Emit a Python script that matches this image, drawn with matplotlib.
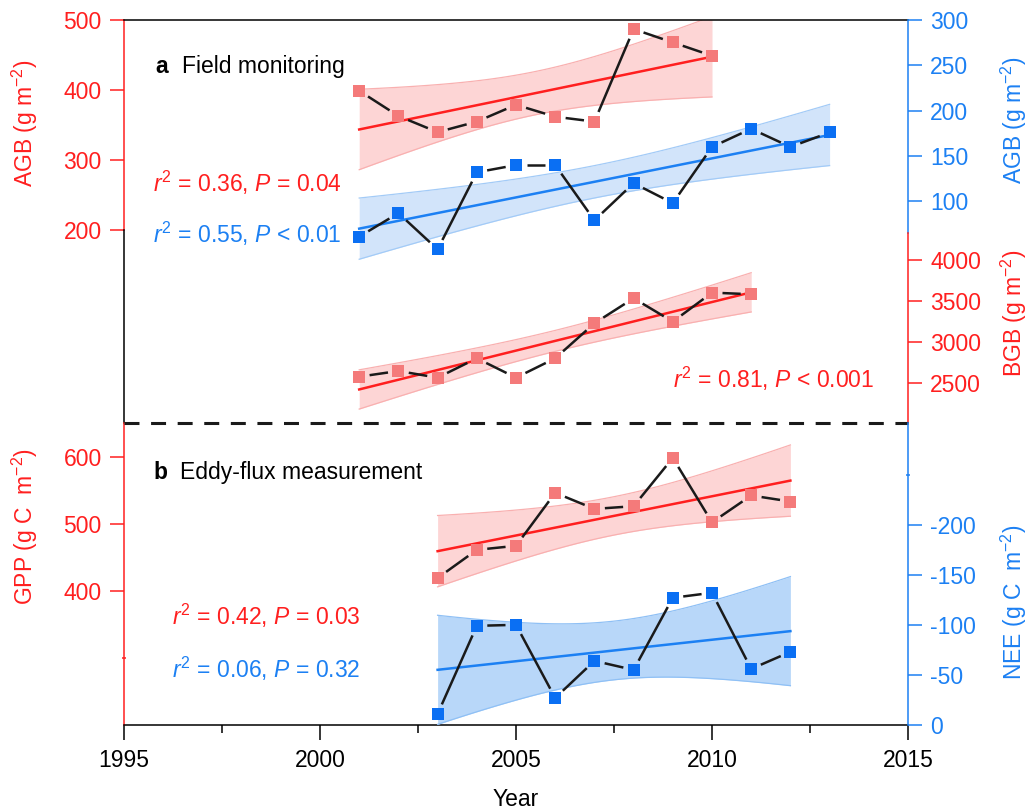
import numpy as np
import matplotlib
matplotlib.use('Agg')
import matplotlib.pyplot as plt

# Fontes e estilo
plt.rcParams['font.family'] = 'Liberation Sans'
plt.rcParams['font.size'] = 16.5
plt.rcParams['mathtext.fontset'] = 'custom'
plt.rcParams['mathtext.rm'] = 'Liberation Sans'
plt.rcParams['mathtext.it'] = 'Liberation Sans:italic'
plt.rcParams['mathtext.bf'] = 'Liberation Sans:bold'
plt.rcParams['axes.unicode_minus'] = False

RED = '#ff1f1f'
RED_MK = '#f47a7a'
BLUE = '#1c80f3'
BLUE_MK = '#0a6ff3'
BLACK = '#1a1a1a'

# (a) monitoramento de campo
anos_agb_esq = np.arange(2001, 2011)
agb_esq = [399, 363, 340, 355, 379, 362, 355, 487, 468, 449]
anos_agb_dir = np.arange(2001, 2014)
agb_dir = [61, 87, 47, 132, 140, 140, 79, 120, 98, 160, 180, 160, 176]
anos_bgb = np.arange(2001, 2012)
bgb = [2573, 2643, 2561, 2798, 2561, 2798, 3226, 3532, 3246, 3601, 3581]

# (b) eddy covariance
anos_fluxo = np.arange(2003, 2013)
gpp = [419, 461, 467, 546, 522, 526, 598, 502, 542, 533]
nee = [-11, -99, -100, -27, -64, -55, -127, -132, -56, -73]

# t de Student (95%, bicaudal) por graus de liberdade
T975 = {8: 2.306, 9: 2.262, 11: 2.201}

W, H = 1031, 811


def rect(l, t, r, b):
    return [l / W, 1 - b / H, (r - l) / W, (b - t) / H]


def px(x, y):
    return x / W, 1 - y / H


def ajuste(x, y):
    x = np.asarray(x, float)
    y = np.asarray(y, float)
    n = len(x)
    b, a = np.polyfit(x, y, 1)
    xs = np.linspace(x.min(), x.max(), 100)
    yh = a + b * xs
    s = np.sqrt(np.sum((y - (a + b * x)) ** 2) / (n - 2))
    se = s * np.sqrt(1 / n + (xs - x.mean()) ** 2 / np.sum((x - x.mean()) ** 2))
    h = T975[n - 2] * se
    return xs, yh, yh - h, yh + h


def linha_com_gap(ax, x, y, gap=10.5):
    pts = ax.transData.transform(np.column_stack([x, y]))
    inv = ax.transData.inverted()
    for p, q in zip(pts[:-1], pts[1:]):
        d = q - p
        L = np.hypot(*d)
        if L <= 2 * gap:
            continue
        u = d / L
        seg = inv.transform(np.array([p + u * gap, q - u * gap]))
        ax.plot(seg[:, 0], seg[:, 1], color=BLACK, lw=1.8,
                solid_capstyle='butt', zorder=4)


def serie(ax, x, y, cor_mk, cor_linha, face, borda):
    xs, yh, lo, hi = ajuste(x, y)
    ax.fill_between(xs, lo, hi, color=face, lw=0, zorder=1)
    ax.plot(xs, lo, color=borda, lw=0.9, zorder=2)
    ax.plot(xs, hi, color=borda, lw=0.9, zorder=2)
    ax.plot(xs, yh, color=cor_linha, lw=1.8, zorder=3)
    linha_com_gap(ax, x, y)
    ax.plot(x, y, 's', ms=9, color=cor_mk, mew=0, zorder=5)


def eixo_y(ax, cor, ticks, lado='left'):
    ax.set_yticks(ticks)
    ax.tick_params(axis='y', which='major', colors=cor, direction='out',
                   length=10, width=1.1, pad=6, labelsize=16.5)
    ax.spines[lado].set_color(cor)
    ax.spines[lado].set_linewidth(1.1)


fig = plt.figure(figsize=(10.31, 8.11), dpi=100)

# ---------- painel a ----------
ax_a = fig.add_axes(rect(124, 20, 908, 423))
ax_a.set_xlim(1995, 2015)
ax_a.set_ylim(-75, 500)
ax_a.spines['bottom'].set_visible(False)
ax_a.spines['right'].set_visible(False)
ax_a.spines['top'].set_linewidth(1.1)
ax_a.tick_params(axis='x', bottom=False, labelbottom=False)
eixo_y(ax_a, RED, [200, 300, 400, 500])
ax_a.spines['left'].set_bounds(200, 500)
ax_a.plot([1995, 1995], [-75, 200], color='k', lw=1.1, clip_on=False, zorder=6)

ax_a2 = ax_a.twinx()
ax_a2.set_ylim(-144.5, 300)
for s in ['top', 'bottom', 'left']:
    ax_a2.spines[s].set_visible(False)
eixo_y(ax_a2, BLUE, [100, 150, 200, 250, 300], 'right')
ax_a2.spines['right'].set_bounds(65, 300)

ax_a3 = ax_a.twinx()
ax_a3.set_ylim(2007, 6934)
for s in ['top', 'bottom', 'left']:
    ax_a3.spines[s].set_visible(False)
eixo_y(ax_a3, RED, [2500, 3000, 3500, 4000], 'right')
ax_a3.spines['right'].set_bounds(2007, 4330)

serie(ax_a, anos_agb_esq, agb_esq, RED_MK, RED, '#fdd5d5', '#f9b0b0')
serie(ax_a2, anos_agb_dir, agb_dir, BLUE_MK, BLUE, '#d2e4fa', '#a3cbf7')
serie(ax_a3, anos_bgb, bgb, RED_MK, RED, '#fdd5d5', '#f9b0b0')

# ---------- painel b ----------
ax_b = fig.add_axes(rect(124, 423, 908, 725))
ax_b.set_xlim(1995, 2015)
ax_b.set_ylim(200, 650)
ax_b.spines['top'].set_visible(False)
ax_b.spines['right'].set_visible(False)
ax_b.spines['bottom'].set_linewidth(1.1)
eixo_y(ax_b, RED, [400, 500, 600])
ax_b.set_yticks([300], minor=True)
ax_b.tick_params(axis='y', which='minor', colors=RED, direction='inout',
                 length=3, width=1.1)
ax_b.set_xticks([1995, 2000, 2005, 2010, 2015])
ax_b.set_xticks([1997.5, 2002.5, 2007.5, 2012.5], minor=True)
ax_b.tick_params(axis='x', which='major', direction='out', length=11,
                 width=1.1, pad=6, labelsize=16.5)
ax_b.tick_params(axis='x', which='minor', direction='out', length=6, width=1.1)

ax_b2 = ax_b.twinx()
ax_b2.set_ylim(0, -301.5)
for s in ['top', 'bottom', 'left']:
    ax_b2.spines[s].set_visible(False)
eixo_y(ax_b2, BLUE, [0, -50, -100, -150, -200], 'right')
ax_b2.set_yticks([-250], minor=True)
ax_b2.tick_params(axis='y', which='minor', colors=BLUE, direction='inout',
                  length=3, width=1.1)

serie(ax_b, anos_fluxo, gpp, RED_MK, RED, '#fdd5d5', '#f9b0b0')
serie(ax_b2, anos_fluxo, nee, BLUE_MK, BLUE, '#b8d7f9', '#8fc0f5')

# linha tracejada separando os painéis
ax_b.plot([0, 1], [1, 1], transform=ax_b.transAxes, color=BLACK, lw=2.2,
          ls=(0, (4.9, 3.8)), clip_on=False, zorder=7)

# rótulos dos eixos
fig.text(*px(25, 123), 'AGB (g m$^{-2}$)', rotation=90, ha='center', va='center', color=RED)
fig.text(*px(25, 527), 'GPP (g C  m$^{-2}$)', rotation=90, ha='center', va='center', color=RED)
fig.text(*px(1014, 120), 'AGB (g m$^{-2}$)', rotation=90, ha='center', va='center', color=BLUE)
fig.text(*px(1014, 313), 'BGB (g m$^{-2}$)', rotation=90, ha='center', va='center', color=RED)
fig.text(*px(1014, 602), 'NEE (g C  m$^{-2}$)', rotation=90, ha='center', va='center', color=BLUE)
fig.text(*px(516, 799), 'Year', ha='center', va='center')

# títulos dos painéis
fig.text(*px(155, 73), 'a', fontweight='bold', va='baseline')
fig.text(*px(182, 73), 'Field monitoring', va='baseline')
fig.text(*px(153, 479), 'b', fontweight='bold', va='baseline')
fig.text(*px(180, 479), 'Eddy-flux measurement', va='baseline')

# estatísticas das regressões
fig.text(*px(153, 192), r'$r^2$ = 0.36, $P$ = 0.04', color=RED, va='baseline')
fig.text(*px(153, 243), r'$r^2$ = 0.55, $P$ < 0.01', color=BLUE, va='baseline')
fig.text(*px(673, 388), r'$r^2$ = 0.81, $P$ < 0.001', color=RED, va='baseline')
fig.text(*px(172, 625), r'$r^2$ = 0.42, $P$ = 0.03', color=RED, va='baseline')
fig.text(*px(172, 678), r'$r^2$ = 0.06, $P$ = 0.32', color=BLUE, va='baseline')

fig.savefig('out.png', dpi=100)
